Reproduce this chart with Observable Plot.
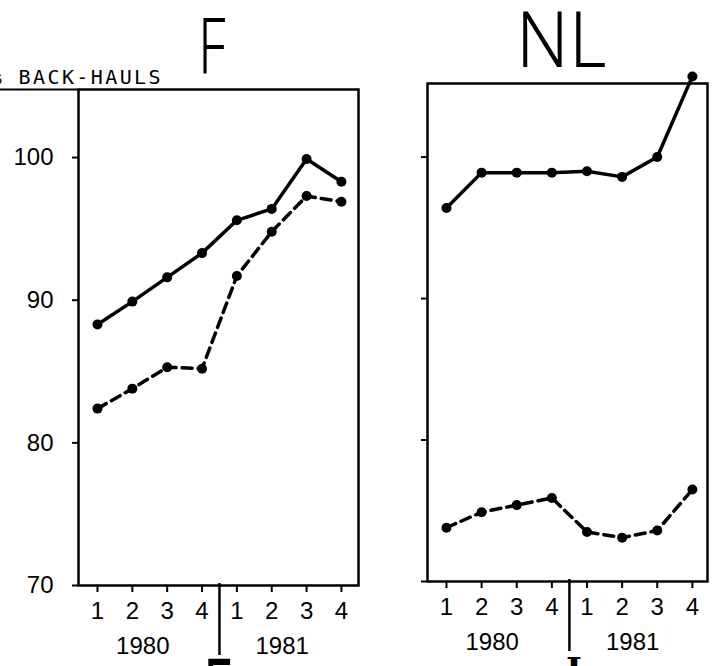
<!DOCTYPE html>
<html><head><meta charset="utf-8">
<script src="https://cdn.jsdelivr.net/npm/d3@7"></script>
<script src="https://cdn.jsdelivr.net/npm/@observablehq/plot@0.6"></script>
<style>
html,body{margin:0;padding:0;background:#fff;}
#wrap{position:relative;width:712px;height:666px;overflow:hidden;background:#fff;}
#wrap svg{position:absolute;top:0;overflow:visible;}
.title{position:absolute;font-family:"Noto Sans";font-weight:260;font-size:78px;line-height:0.8;color:#000;transform-origin:left top;white-space:nowrap;}
</style></head><body><div id="wrap"></div>
<script>
// ---- data ----
const countries = ["F", "NL"];
const quarters = ["1", "2", "3", "4", "1", "2", "3", "4"];
const years = ["1980", "1981"];
const yearPos = [1.3, 5.3];
const yTicks = [70, 80, 90, 100];
const yLabel = "% BACK-HAULS";
const fSolid  = [88.3, 89.9, 91.6, 93.3, 95.6, 96.4, 99.9, 98.3];
const fDashed = [82.4, 83.8, 85.3, 85.2, 91.7, 94.8, 97.3, 96.9];
const nlSolid  = [96.4, 98.9, 98.9, 98.9, 99.0, 98.6, 100.0, 105.7];
const nlDashed = [73.8, 74.9, 75.4, 75.9, 73.5, 73.1, 73.6, 76.5];

const wrap = document.getElementById("wrap");

function panel(o) {
  const data = quarters.map((q, i) => ({i, q, s: o.solid[i], d: o.dashed[i]}));
  const yMin = o.yDomain[0], yMax = o.yDomain[1], xMin = o.xDomain[0];
  const marks = [
    Plot.frame({stroke: "black", strokeWidth: 2.5}),
    Plot.axisX(d3.range(quarters.length), {tickSize: 7, tickPadding: 9, strokeWidth: 2,
      tickFormat: i => quarters[i], fontSize: 24, label: null}),
    Plot.axisY(yTicks, {tickSize: 6, tickPadding: 19, strokeWidth: 2, fontSize: 24, label: null,
      tickFormat: o.yLabels ? d => d : () => ""}),
    Plot.text(years, {x: (d, k) => yearPos[k], y: yMin, dy: 61, text: d => d, fontSize: 24, textAnchor: "middle"}),
    Plot.ruleX([3.5], {y1: yMin, y2: yMin, insetTop: -2, insetBottom: -70, stroke: "black", strokeWidth: 2.5}),
    Plot.line(data, {x: "i", y: "s", stroke: "black", strokeWidth: 3.5}),
    Plot.line(data, {x: "i", y: "d", stroke: "black", strokeWidth: 3.5, strokeDasharray: "10,6"}),
    Plot.dot(data, {x: "i", y: "s", r: 5, fill: "black"}),
    Plot.dot(data, {x: "i", y: "d", r: 5, fill: "black"})
  ];
  if (o.yLabels) {
    marks.push(Plot.ruleY([yMax], {x1: xMin, x2: xMin, insetLeft: -78, stroke: "black", strokeWidth: 2}));
    marks.push(Plot.text([yLabel], {text: d => d, frameAnchor: "top-left", dx: -88.8, dy: -11.5,
      textAnchor: "start", lineAnchor: "middle", fontFamily: "DejaVu Sans Mono", fontSize: 20}));
  }
  const svg = Plot.plot({
    width: o.width, height: 666,
    marginLeft: o.ml, marginRight: o.mr, marginTop: o.mt, marginBottom: o.mb,
    style: {fontFamily: "Liberation Sans", fontSize: "24px", color: "black", background: "transparent"},
    x: {type: "linear", domain: o.xDomain, label: null},
    y: {type: "linear", domain: o.yDomain, label: null},
    marks
  });
  svg.style.left = o.left + "px";
  svg.querySelectorAll("text").forEach(t => {
    if (t.textContent.includes("BACK")) t.setAttribute("letter-spacing", "2.4");
  });
  return svg;
}

wrap.appendChild(panel({solid: fSolid, dashed: fDashed, yLabels: true,
  xDomain: [-0.545, 7.49], yDomain: [70, 104.77],
  left: 0, width: 366, ml: 78, mr: 8, mt: 89, mb: 81}));
wrap.appendChild(panel({solid: nlSolid, dashed: nlDashed, yLabels: false,
  xDomain: [-0.54, 7.43], yDomain: [70, 105.2],
  left: 366, width: 346, ml: 61, mr: 5, mt: 83, mb: 85}));

function addTitle(txt, left, top, sx, extra) {
  const d = document.createElement("div");
  d.className = "title";
  d.textContent = txt;
  d.style.left = left + "px";
  d.style.top = top + "px";
  d.style.transform = "scaleX(" + sx + ")";
  if (extra) Object.assign(d.style, extra);
  wrap.appendChild(d);
}
addTitle(countries[0], 197.5, 12.2, 0.7);
addTitle(countries[1], 515.7, 6.2, 0.93);
// tops of the next row's letters, cut off by the picture edge (as in the reference)
addTitle("F", 202.5, 654.2, 0.7, {fontWeight: 400});
addTitle("I", 566, 653, 1, {fontFamily: "DejaVu Serif", fontWeight: 700, fontSize: "34px", lineHeight: 1});
</script></body></html>
